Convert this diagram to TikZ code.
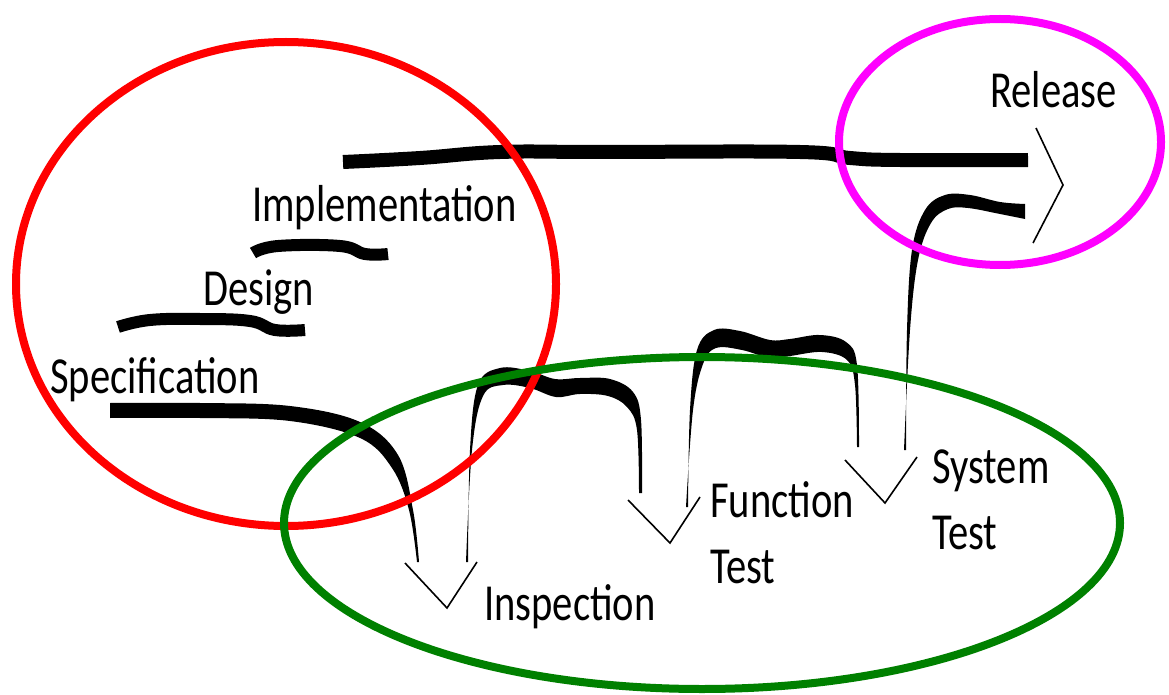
\documentclass[tikz,border=0pt]{standalone}
\usepackage{fontspec}
\newfontfamily\labelfont[FakeStretch=0.78]{Carlito}
\begin{document}
\begin{tikzpicture}[x=1pt,y=-1pt,
  lbl/.style={font=\labelfont\fontsize{52}{58}\selectfont, anchor=base west, inner sep=0pt},
  brush/.style={line width=#1, line cap=butt, line join=round},
  thin/.style={line width=1.6pt, line join=miter},
  ring/.style={line width=8pt, draw=#1}]
\useasboundingbox (0,0) rectangle (1169,695);

% phase labels
\node[lbl] (rel)  at (990,108) {Release};
\node[lbl] (impl) at (252,222) {Implementation};
\node[lbl] (des)  at (203,305) {Design};
\node[lbl] (spec) at (50,393)  {Specification};
\node[lbl] (insp) at (484,620) {Inspection};
\node[lbl] (func) at (710,517) {Function};
\node[lbl] (ftst) at (710,583) {Test};
\node[lbl] (sys)  at (932,483) {System};
\node[lbl] (stst) at (932,549) {Test};

% level strokes
\draw[brush=12pt] plot[smooth,tension=0.7] coordinates {(118,327) (150,320) (200,319) (250,321) (275,330) (305,330)};
\draw[brush=12pt] plot[smooth,tension=0.7] coordinates {(253,253) (278,246) (340,246) (365,254) (388,254)};
\draw[brush=14pt] plot[smooth,tension=0.7] coordinates {(343,162) (420,158) (500,152) (600,152) (800,152) (850,158) (900,160) (1028,160)};

% specification drop
\fill plot[smooth,tension=0.6] coordinates {(110,403) (200,403) (290,406) (360,422) (398,455) (413,510) (419,562)}
  -- plot[smooth,tension=0.6] coordinates {(417,562) (409,510) (392,468) (360,438) (290,421) (200,418) (110,418)} -- cycle;

% inspection hump
\fill plot[smooth,tension=0.6] coordinates {(468,562) (470,450) (478,385) (500,368) (530,371) (555,379) (580,378) (610,379) (633,392) (641,420) (642,493)}
  -- plot[smooth,tension=0.6] coordinates {(639,493) (637,430) (627,407) (608,396) (580,394) (556,397) (530,388) (503,385) (483,396) (472,450) (466,562)} -- cycle;

% function test hump
\fill plot[smooth,tension=0.6] coordinates {(688,507) (690,410) (697,350) (714,330) (740,331) (770,340) (790,339) (820,335) (846,342) (857,365) (859,447)}
  -- plot[smooth,tension=0.6] coordinates {(857,447) (855,385) (847,360) (822,352) (790,356) (770,358) (742,350) (716,348) (703,364) (693,410) (686,507)} -- cycle;

% system test rise
\fill plot[smooth,tension=0.6] coordinates {(906,450) (907,330) (912,250) (925,210) (945,195) (970,195) (1000,202) (1025,204)}
  -- plot[smooth,tension=0.6] coordinates {(1025,219) (1000,214) (968,208) (948,209) (931,223) (918,260) (910,330) (904,450)} -- cycle;

% arrow heads
\draw[thin] (405,563) -- (447,608) -- (477,562);
\draw[thin] (628,500) -- (670,543) -- (700,497);
\draw[thin] (845,460) -- (885,503) -- (917,457);
\draw[thin] (1036,128) -- (1063,185) -- (1033,243);

% grouping rings
\definecolor{ringred}{HTML}{FF0000}
\definecolor{ringgreen}{HTML}{008000}
\definecolor{ringmag}{HTML}{FF00FF}
\draw[ring=ringred] (286,284) ellipse [x radius=270, y radius=242];
\draw[ring=ringgreen] (702,523) ellipse [x radius=418, y radius=166];
\draw[ring=ringmag] (1000,142) ellipse [x radius=161, y radius=123];
\end{tikzpicture}
\end{document}
